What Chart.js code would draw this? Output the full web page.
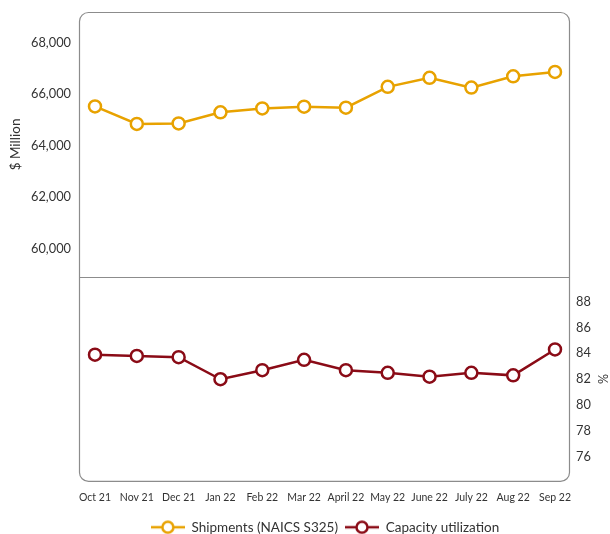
<!DOCTYPE html>
<html lang="en">
<head>
<meta charset="UTF-8">
<title>Shipments and Capacity Utilization</title>
<script src="https://cdn.jsdelivr.net/npm/chart.js"></script>
<style>
    body { margin: 0; background: #fff; }
    canvas { display: block; }
</style>
</head>
<body>
<canvas id="chart" width="610" height="534"></canvas>
<script>
    const months = ['Oct 21', 'Nov 21', 'Dec 21', 'Jan 22', 'Feb 22', 'Mar 22', 'April 22', 'May 22', 'June 22', 'July 22', 'Aug 22', 'Sep 22'];
    const shipments = [65530, 64850, 64870, 65300, 65450, 65520, 65480, 66290, 66640, 66260, 66700, 66870];
    const capacity = [83.9, 83.8, 83.7, 82.0, 82.7, 83.5, 82.7, 82.5, 82.2, 82.5, 82.3, 84.3];
    const shipmentTicks = [60000, 62000, 64000, 66000, 68000];
    const capacityTicks = [76, 78, 80, 82, 84, 86, 88];

    const GOLD = '#e8a200';
    const MAROON = '#8a0b16';
    const FONT = 'Lato, "Open Sans", sans-serif';
    const TEXT = '#333';

    function legendMark(color) {
        const c = document.createElement('canvas');
        c.width = 34; c.height = 16;
        const g = c.getContext('2d');
        g.strokeStyle = color;
        g.lineWidth = 2.5;
        g.beginPath(); g.moveTo(0, 8); g.lineTo(34, 8); g.stroke();
        g.fillStyle = '#fff';
        g.beginPath(); g.arc(17, 8, 5.5, 0, Math.PI * 2); g.fill(); g.stroke();
        return c;
    }

    // rounded frame + divider between the two panels
    const frame = {
        id: 'frame',
        beforeDatasetsDraw(chart) {
            const { ctx, chartArea: a, scales } = chart;
            const l = a.left - 16, r = a.right + 14;
            ctx.save();
            ctx.strokeStyle = '#8c8c8c';
            ctx.lineWidth = 1.2;
            ctx.beginPath();
            ctx.roundRect(l + 0.5, a.top + 0.5, r - l, a.bottom - a.top, 9);
            ctx.stroke();
            const mid = Math.round(scales.y.bottom) + 0.5;
            ctx.beginPath(); ctx.moveTo(l, mid); ctx.lineTo(r + 1, mid); ctx.stroke();
            ctx.restore();
        }
    };

    function fixWidth(w) {
        return s => { s.width = w; s.paddingTop = 0; s.paddingBottom = 0; };
    }

    const hiddenAxis = (pos, stack, weight, stackWeight, w) => ({
        position: pos, stack: stack, weight: weight, stackWeight: stackWeight,
        min: 0, max: 1,
        grid: { display: false, drawTicks: false }, border: { display: false },
        ticks: { display: false },
        afterFit: fixWidth(w)
    });

    new Chart(document.getElementById('chart'), {
        type: 'line',
        data: {
            labels: months,
            datasets: [{
                label: 'Shipments (NAICS S325)',
                data: shipments,
                yAxisID: 'y',
                borderColor: GOLD,
                backgroundColor: '#fff',
                borderWidth: 2.5,
                pointRadius: 6,
                pointBorderWidth: 2.5,
                pointBackgroundColor: '#fff',
                pointBorderColor: GOLD,
                tension: 0
            }, {
                label: 'Capacity utilization',
                data: capacity,
                yAxisID: 'y2',
                borderColor: MAROON,
                backgroundColor: '#fff',
                borderWidth: 2.5,
                pointRadius: 6,
                pointBorderWidth: 2.5,
                pointBackgroundColor: '#fff',
                pointBorderColor: MAROON,
                tension: 0
            }]
        },
        options: {
            responsive: false,
            animation: false,
            layout: { padding: { top: 12, left: 0, right: 0, bottom: -10 } },
            plugins: {
                tooltip: { enabled: false },
                legend: {
                    position: 'bottom',
                    fullSize: false,
                    labels: {
                        usePointStyle: true,
                        pointStyleWidth: 34,
                        padding: 7,
                        color: TEXT,
                        font: { family: FONT, size: 13.5 },
                        generateLabels(chart) {
                            return Chart.defaults.plugins.legend.labels.generateLabels(chart).map((it, i) => {
                                it.pointStyle = legendMark(i === 0 ? GOLD : MAROON);
                                return it;
                            });
                        }
                    }
                }
            },
            scales: {
                x: {
                    offset: false,
                    grid: { display: false, drawTicks: false },
                    border: { display: false },
                    ticks: { color: TEXT, font: { family: FONT, size: 10.5 }, padding: 10, maxRotation: 0, autoSkip: false }
                },
                y: {
                    position: 'left', stack: 'L', weight: 2, stackWeight: 265,
                    min: 58900, max: 69200,
                    afterBuildTicks: s => { s.ticks = shipmentTicks.map(v => ({ value: v })); },
                    grid: { display: false, drawTicks: false },
                    border: { display: false },
                    ticks: {
                        color: TEXT, padding: 24,
                        font: { family: FONT, size: 12.8 },
                        callback: v => v.toLocaleString('en-US')
                    },
                    title: { display: true, text: '$ Million', color: TEXT, font: { family: FONT, size: 13.5 }, padding: { top: 8, bottom: 0 } },
                    afterFit: fixWidth(95)
                },
                yb: hiddenAxis('left', 'L', 1, 204, 95),
                y2t: hiddenAxis('right', 'R', 1, 265, 55),
                y2: {
                    position: 'right', stack: 'R', weight: 2, stackWeight: 204,
                    min: 74.15, max: 89.9,
                    afterBuildTicks: s => { s.ticks = capacityTicks.map(v => ({ value: v })); },
                    grid: { display: false, drawTicks: false },
                    border: { display: false },
                    ticks: { color: TEXT, padding: 21, font: { family: FONT, size: 12.8 } },
                    title: { display: true, text: '%', color: TEXT, font: { family: FONT, size: 12.5 }, padding: { top: 0, bottom: 0 } },
                    afterFit: fixWidth(55)
                }
            }
        },
        plugins: [frame]
    });
</script>
</body>
</html>
